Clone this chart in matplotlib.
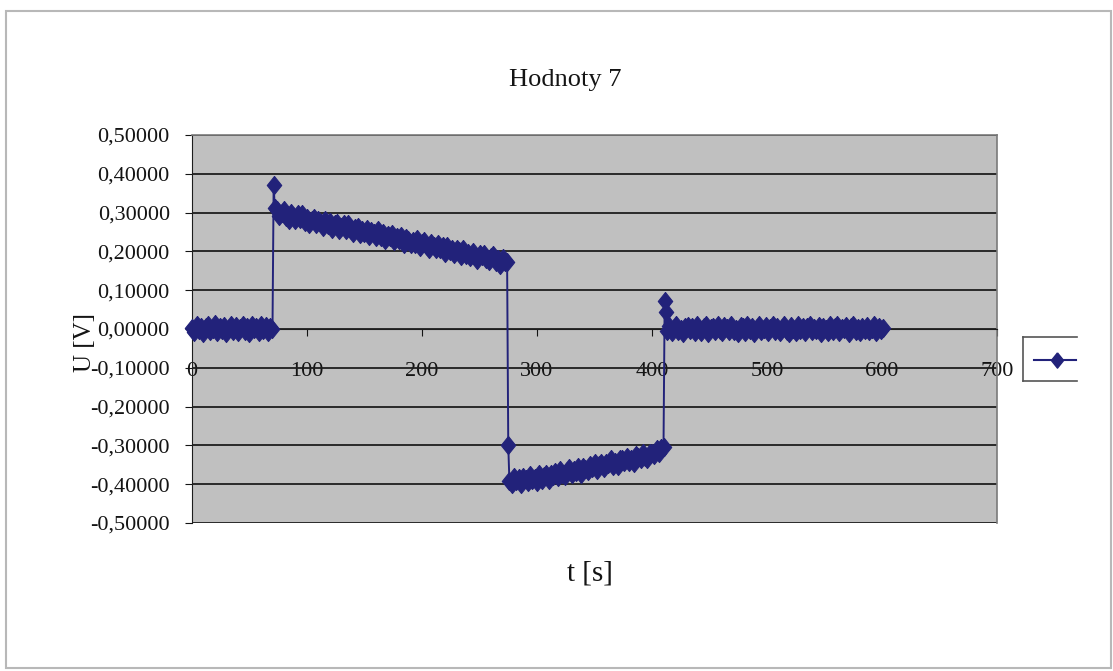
import numpy as np
import matplotlib.pyplot as plt
from matplotlib.lines import Line2D
from matplotlib.patches import Rectangle
from matplotlib.ticker import FuncFormatter

plt.rcParams['font.family'] = ['Liberation Serif', 'DejaVu Serif']

# measured voltage U [V] against time t [s], sampled every 2 s
t_rest1 = np.arange(0, 71, 2)
u_rest1 = [0.002, -0.008, 0.010, -0.003, 0.006, -0.011, 0.004, 0.009, -0.006, 0.001,
           0.012, -0.009, 0.005, -0.002, 0.008, -0.010, 0.003, 0.011, -0.005, 0.007,
           -0.008, 0.002, 0.010, -0.004, 0.006, -0.011, 0.009, -0.001, 0.004, -0.007,
           0.011, -0.003, 0.007, -0.009, 0.005, 0.000]

t_jump1 = [71, 72]
u_jump1 = [0.370, 0.312]

t_pos = np.arange(74, 275, 2)
u_pos = [0.306, 0.290, 0.300, 0.306, 0.289, 0.282, 0.299, 0.291, 0.281, 0.296,
         0.283, 0.296, 0.276, 0.286, 0.271, 0.282, 0.286, 0.271, 0.281, 0.273,
         0.264, 0.282, 0.267, 0.276, 0.257, 0.270, 0.272, 0.256, 0.264, 0.271,
         0.256, 0.270, 0.256, 0.247, 0.260, 0.262, 0.246, 0.254, 0.248, 0.259,
         0.239, 0.252, 0.247, 0.238, 0.254, 0.238, 0.247, 0.229, 0.241, 0.236,
         0.244, 0.226, 0.238, 0.230, 0.240, 0.218, 0.234, 0.229, 0.218, 0.228,
         0.218, 0.233, 0.211, 0.222, 0.226, 0.213, 0.205, 0.221, 0.214, 0.205,
         0.219, 0.206, 0.213, 0.195, 0.215, 0.202, 0.207, 0.193, 0.206, 0.200,
         0.189, 0.207, 0.190, 0.197, 0.186, 0.199, 0.189, 0.179, 0.194, 0.188,
         0.194, 0.180, 0.175, 0.186, 0.190, 0.173, 0.180, 0.165, 0.182, 0.172,
         0.173]

t_jump2 = [275, 276]
u_jump2 = [-0.300, -0.392]

t_neg = np.arange(278, 411, 2)
u_neg = [-0.399, -0.382, -0.393, -0.385, -0.400, -0.381, -0.387, -0.394, -0.377, -0.390,
         -0.383, -0.394, -0.373, -0.388, -0.380, -0.373, -0.389, -0.374, -0.378, -0.368,
         -0.381, -0.363, -0.375, -0.379, -0.365, -0.358, -0.375, -0.364, -0.369, -0.355,
         -0.374, -0.356, -0.360, -0.365, -0.350, -0.359, -0.346, -0.364, -0.350, -0.346,
         -0.359, -0.346, -0.349, -0.336, -0.352, -0.342, -0.353, -0.335, -0.336, -0.342,
         -0.329, -0.344, -0.335, -0.345, -0.325, -0.329, -0.335, -0.319, -0.330, -0.335,
         -0.319, -0.320, -0.324, -0.310, -0.319, -0.308, -0.303]

t_jump3 = [411, 412]
u_jump3 = [0.073, 0.043]

t_rest2 = np.arange(413, 602, 2)
u_rest2 = [-0.004, 0.007, -0.009, 0.002, 0.010, -0.006, 0.001, -0.011, 0.005, 0.008,
           -0.003, 0.006, -0.008, 0.011, -0.001, -0.007, 0.004, 0.009, -0.010, 0.002,
           0.006, -0.005, 0.010, -0.002, -0.009, 0.007, 0.003, -0.006, 0.011, -0.004,
           0.001, -0.010, 0.008, 0.004, -0.007, 0.009, -0.003, 0.005, -0.011, 0.002,
           0.010, -0.006, -0.001, 0.007, -0.009, 0.003, 0.011, -0.004, 0.006, -0.008,
           0.002, 0.009, -0.005, -0.010, 0.008, 0.001, -0.007, 0.010, -0.002, 0.005,
           -0.009, 0.004, 0.011, -0.006, 0.003, -0.003, 0.008, -0.011, 0.006, 0.000,
           -0.007, 0.010, -0.004, 0.005, 0.009, -0.008, 0.002, -0.001, 0.007, -0.010,
           0.004, 0.011, -0.005, 0.003, -0.009, 0.006, -0.002, 0.008, -0.006, 0.001,
           0.009, -0.007, 0.004, -0.003, 0.002]

x_ticks = [0, 100, 200, 300, 400, 500, 600, 700]
y_ticks = [-0.5, -0.4, -0.3, -0.2, -0.1, 0.0, 0.1, 0.2, 0.3, 0.4, 0.5]

t = np.concatenate([t_rest1, t_jump1, t_pos, t_jump2, t_neg, t_jump3, t_rest2])
u = np.concatenate([u_rest1, u_jump1, u_pos, u_jump2, u_neg, u_jump3, u_rest2])

navy = '#22227a'
ink = '#141414'
# slightly tall diamond marker
diamond = [(0, 1), (0.8, 0), (0, -1), (-0.8, 0), (0, 1)]

fig = plt.figure(figsize=(11.13, 6.71), dpi=100)
ax = fig.add_axes([0.1725, 0.2206, 0.7233, 0.5782])
ax.set_facecolor('#c0c0c0')

ax.plot(t, u, color=navy, lw=1.4, marker=diamond, ms=13, mec=navy, mfc=navy,
        mew=0.8, clip_on=False, zorder=3)

ax.set_xlim(0, 700)
ax.set_ylim(-0.5, 0.5)
ax.set_xticks(x_ticks)
ax.set_yticks(y_ticks)


def fmt_u(v, pos):
    s = f'{abs(v):.5f}'.replace('.', ',')
    return '-' + s if v < -1e-9 else s


ax.yaxis.set_major_formatter(FuncFormatter(fmt_u))
ax.grid(axis='y', color='#1e1e1e', lw=1.3)
ax.grid(axis='x', visible=False)
ax.set_axisbelow(True)

ax.spines['bottom'].set_position(('data', 0))
ax.spines['bottom'].set_color('#1e1e1e')
ax.spines['left'].set_color('#1e1e1e')
for side in ('top', 'right'):
    ax.spines[side].set_color('#7a7a7a')
    ax.spines[side].set_linewidth(1.2)

ax.tick_params(axis='x', direction='out', length=5, pad=19, labelsize=16,
               colors=ink)
ax.tick_params(axis='y', direction='out', length=5, pad=11, labelsize=16,
               colors=ink)

fig.text(0.508, 0.881, 'Hodnoty 7', ha='center', va='center', fontsize=19,
         color=ink)
fig.text(0.530, 0.146, 't [s]', ha='center', va='center', fontsize=21,
         color=ink)
fig.text(0.076, 0.49, 'U [V]', ha='center', va='center', rotation=90,
         fontsize=18, color=ink)

# legend frame (open on the right) with the series symbol
lx0, lx1, ly0, ly1 = 0.9191, 0.9677, 0.4322, 0.4978
for xs, ys in [([lx0, lx1], [ly1, ly1]), ([lx0, lx0], [ly0, ly1]), ([lx0, lx1], [ly0, ly0])]:
    fig.add_artist(Line2D(xs, ys, color='#555555', lw=1.2, transform=fig.transFigure))
fig.add_artist(Line2D([0.929, 0.967], [0.4635, 0.4635], color=navy, lw=1.5,
                      transform=fig.transFigure))
fig.add_artist(Line2D([0.9497], [0.4635], color=navy, marker=diamond, ms=11,
                      transform=fig.transFigure))

# chart area border
fig.add_artist(Rectangle((0.0054, 0.0045), 0.9928, 0.979, fill=False,
                         edgecolor='#b8b8b8', lw=1.5, transform=fig.transFigure))

fig.savefig('out.png', dpi=100)
